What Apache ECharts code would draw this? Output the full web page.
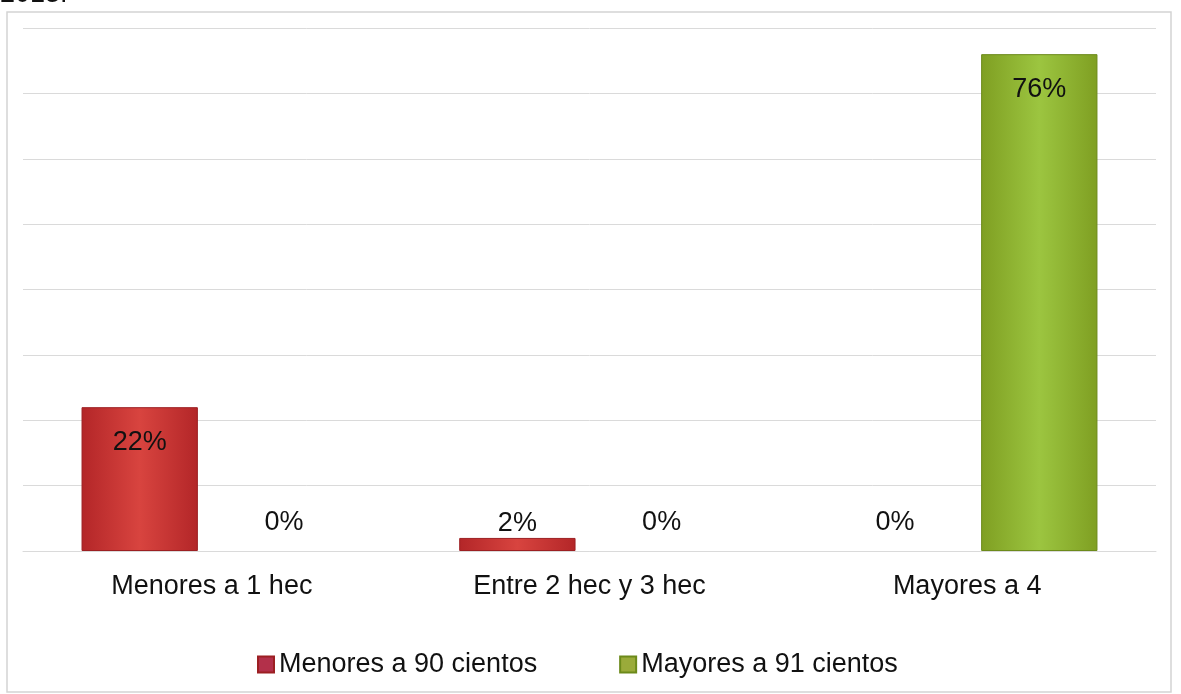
<!DOCTYPE html>
<html>
<head>
<meta charset="utf-8">
<script src="https://cdn.jsdelivr.net/npm/echarts@6/dist/echarts.min.js"></script>
<style>
  html, body { margin: 0; padding: 0; background: #fff; }
  #chart { width: 1181px; height: 694px; }
</style>
</head>
<body>
<div id="chart"></div>
<script>
// datos
const categories = ['Menores a 1 hec', 'Entre 2 hec y 3 hec', 'Mayores a 4'];
const seriesNames = ['Menores a 90 cientos', 'Mayores a 91 cientos'];
const menores90 = [0.22, 0.02, 0];
const mayores91 = [0, 0, 0.76];

const FONT = '"Liberation Sans", Arial, sans-serif';

const redFill = new echarts.graphic.LinearGradient(0, 0, 1, 0, [
  { offset: 0, color: '#b32628' },
  { offset: 0.5, color: '#d8443f' },
  { offset: 1, color: '#b32628' }
]);
const greenFill = new echarts.graphic.LinearGradient(0, 0, 1, 0, [
  { offset: 0, color: '#7f9f22' },
  { offset: 0.5, color: '#9cc540' },
  { offset: 1, color: '#7f9f22' }
]);

// etiqueta dentro de la barra, o encima si la barra es muy baja
function toData(values) {
  return values.map(v => {
    let label;
    if (v === 0) label = { position: 'top', distance: 15 };
    else if (v < 0.05) label = { position: 'top', distance: 1 };
    else label = { position: 'insideTop', distance: 22 };
    const item = { value: v, label: label };
    if (v === 0) item.itemStyle = { borderWidth: 0 }; // sin linea para 0%
    return item;
  });
}

const labelStyle = {
  show: true,
  color: '#111',
  fontFamily: FONT,
  fontSize: 27,
  formatter: p => Math.round(p.value * 100) + '%'
};

const chart = echarts.init(document.getElementById('chart'));
chart.setOption({
  animation: false,
  backgroundColor: '#fff',
  graphic: [
    {
      type: 'rect',
      shape: { x: 7, y: 12, width: 1164, height: 680 },
      style: { fill: 'none', stroke: '#d4d4d4', lineWidth: 1.5 },
      z: -1
    },
    {
      type: 'text',
      x: 0, y: -19,
      style: { text: '2013.', font: '27px ' + FONT, fill: '#111' }
    }
  ],
  grid: { left: 23, right: 25, top: 28, bottom: 143 },
  legend: {
    left: 252,
    top: 646,
    itemWidth: 16,
    itemHeight: 16,
    itemGap: 82,
    textStyle: { fontFamily: FONT, fontSize: 27, color: '#111' },
    data: [
      { name: seriesNames[0], icon: 'rect', itemStyle: { color: '#b3304a' } },
      { name: seriesNames[1], icon: 'rect', itemStyle: { color: '#9aab3a' } }
    ]
  },
  xAxis: {
    type: 'category',
    data: categories,
    axisLine: { show: true, lineStyle: { color: '#dadada' } },
    axisTick: { show: false },
    axisLabel: { color: '#111', fontFamily: FONT, fontSize: 27, margin: 22 }
  },
  yAxis: {
    type: 'value',
    min: 0,
    max: 0.8,
    interval: 0.1,
    axisLine: { show: false },
    axisTick: { show: false },
    axisLabel: { show: false },
    splitLine: { lineStyle: { color: '#dadada' } }
  },
  series: [
    {
      name: seriesNames[0],
      type: 'bar',
      data: toData(menores90),
      barGap: '24%',
      barCategoryGap: '31%',
      itemStyle: { color: redFill, borderColor: '#9c1f22', borderWidth: 1 },
      label: labelStyle
    },
    {
      name: seriesNames[1],
      type: 'bar',
      data: toData(mayores91),
      itemStyle: { color: greenFill, borderColor: '#6c8a1a', borderWidth: 1 },
      label: labelStyle
    }
  ]
});
</script>
</body>
</html>
